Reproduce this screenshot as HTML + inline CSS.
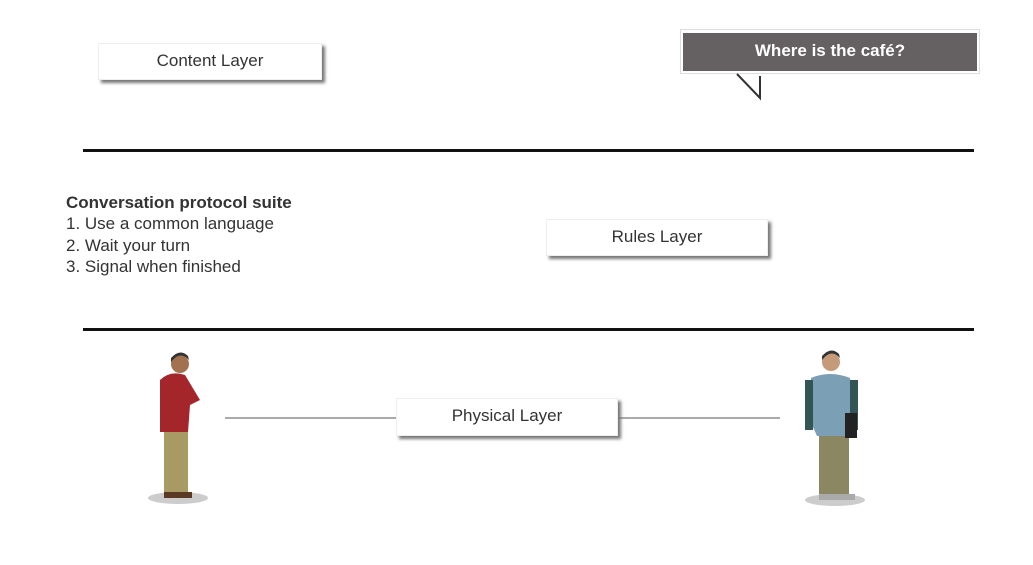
<!DOCTYPE html>
<html><head><meta charset="utf-8"><style>
body{margin:0;width:1033px;height:565px;background:#fff;position:relative;overflow:hidden;font-family:"Liberation Sans",sans-serif;color:#333}
.box{position:absolute;background:#fff;box-shadow:3px 3px 3px #777;font-size:17px;text-align:center;border:1px solid #eee;box-sizing:border-box}
.hl{position:absolute;left:83px;width:891px;height:3px;background:#111}
.gl{position:absolute;height:2px;background:#aaa;top:417px}
</style></head><body>
<div class="box" style="left:98px;top:43px;width:224px;height:37px;line-height:34px">Content Layer</div>
<div style="position:absolute;left:680px;top:29px;width:300px;height:45px;border:1px solid #ddd;box-sizing:border-box;background:#fff"></div>
<div style="position:absolute;left:683px;top:33px;width:294px;height:38px;background:#656061;color:#fff;font-size:17px;font-weight:bold;line-height:35px;text-align:center">Where is the café?</div>
<svg style="position:absolute;left:730px;top:72px" width="40" height="30"><polygon points="5,2 30,26 30,2" fill="#fff"/><polyline points="7,2 30,26 30,4" fill="none" stroke="#333" stroke-width="2"/></svg>
<div class="hl" style="top:149px"></div>
<div style="position:absolute;left:66px;top:192px;font-size:17px;line-height:21.3px;color:#333"><b>Conversation protocol suite</b><br>1. Use a common language<br>2. Wait your turn<br>3. Signal when finished</div>
<div class="box" style="left:546px;top:219px;width:222px;height:37px;line-height:33px">Rules Layer</div>
<div class="hl" style="top:328px"></div>
<div class="gl" style="left:225px;width:172px"></div>
<div class="gl" style="left:618px;width:162px"></div>
<div class="box" style="left:396px;top:398px;width:222px;height:38px;line-height:34px">Physical Layer</div>
<svg style="position:absolute;left:140px;top:350px" width="80" height="160">
<ellipse cx="38" cy="148" rx="30" ry="6" fill="#ccc"/>
<rect x="24" y="80" width="24" height="65" fill="#a89a63"/>
<path d="M20 30 Q30 20 45 25 L60 50 L50 55 L48 82 L20 82 Z" fill="#a5262a"/>
<circle cx="40" cy="14" r="9" fill="#a27150"/><path d="M31 12 Q40 0 49 10 L48 6 Q40 -2 31 8Z" fill="#333"/>
<rect x="24" y="142" width="28" height="6" fill="#5a3a24"/>
</svg>
<svg style="position:absolute;left:795px;top:348px" width="80" height="165">
<ellipse cx="40" cy="152" rx="30" ry="6" fill="#ccc"/>
<rect x="24" y="85" width="30" height="65" fill="#8a8762"/>
<path d="M16 30 Q35 22 55 30 L60 70 L55 88 L22 88 L14 70 Z" fill="#7b9fb4"/>
<rect x="10" y="32" width="8" height="50" fill="#355"/><rect x="55" y="32" width="8" height="50" fill="#355"/>
<rect x="50" y="65" width="12" height="25" fill="#222"/>
<circle cx="36" cy="14" r="9" fill="#c59a78"/><path d="M27 12 Q36 0 45 10 L44 6 Q36 -2 27 8Z" fill="#333"/>
<rect x="24" y="146" width="36" height="6" fill="#aaa"/>
</svg>
</body></html>
